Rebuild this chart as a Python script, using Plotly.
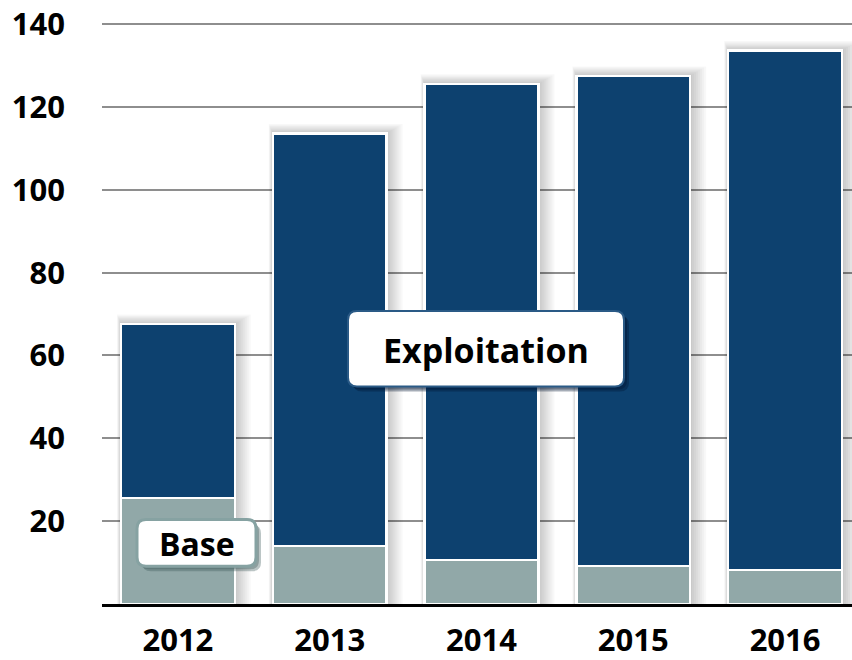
import plotly.graph_objects as go

years = ["2012", "2013", "2014", "2015", "2016"]
base = [25.6, 14.0, 10.6, 9.2, 8.2]
total = [67.6, 113.6, 125.6, 127.5, 133.6]
exploitation = [t - b for t, b in zip(total, base)]
y_ticks = [20, 40, 60, 80, 100, 120, 140]

DARK = "#0D416F"
GREY = "#91A8A8"
FONT = "'Open Sans', Lato, sans-serif"

# plot geometry (pixels)
L, R, T, B = 102, 0, 20, 52
W, H = 852, 660
PW, PH = W - L - R, H - T - B
X_RANGE = [-0.5, -0.5 + PW / 151.8]
Y_RANGE = [0, 141]
px_x = (X_RANGE[1] - X_RANGE[0]) / PW
px_y = (Y_RANGE[1] - Y_RANGE[0]) / PH
BW = 0.75

fig = go.Figure()
fig.add_trace(go.Bar(x=list(range(len(years))), y=base, name="Base",
                     marker=dict(color=GREY, line=dict(color="white", width=2.5))))
fig.add_trace(go.Bar(x=list(range(len(years))), y=exploitation, name="Exploitation",
                     marker=dict(color=DARK, line=dict(color="white", width=2.5))))

shapes = []
# soft bar shadows derived from the data
for i, t in enumerate(total):
    for k in range(1, 9):
        shapes.append(dict(type="rect", xref="x", yref="y", layer="between",
                           x0=i - BW / 2 - k * 0.5 * px_x, x1=i + BW / 2 + k * 2 * px_x,
                           y0=0, y1=t + k * 1.2 * px_y,
                           fillcolor="rgba(0,0,0,0.026)", line=dict(width=0)))


def rrect(x0, y0, x1, y1, r=9):
    rx, ry = r / PW, r / PH
    return (f"M {x0+rx},{y0} L {x1-rx},{y0} Q {x1},{y0} {x1},{y0+ry} "
            f"L {x1},{y1-ry} Q {x1},{y1} {x1-rx},{y1} L {x0+rx},{y1} "
            f"Q {x0},{y1} {x0},{y1-ry} L {x0},{y0+ry} Q {x0},{y0} {x0+rx},{y0} Z")


def px2paper(x, y):
    return (x - L) / PW, (H - B - y) / PH


def label_box(x0p, y0p, x1p, y1p, border, bw, shadow):
    a0 = px2paper(x0p, y1p)
    a1 = px2paper(x1p, y0p)
    for k in (5, 3):
        s0 = px2paper(x0p + k, y1p + k)
        s1 = px2paper(x1p + k, y0p + k)
        shapes.append(dict(type="path", xref="paper", yref="paper", layer="above",
                           path=rrect(s0[0], s0[1], s1[0], s1[1]),
                           fillcolor=shadow, line=dict(width=0)))
    shapes.append(dict(type="path", xref="paper", yref="paper", layer="above",
                       path=rrect(a0[0], a0[1], a1[0], a1[1]),
                       fillcolor="white", line=dict(color=border, width=bw)))


label_box(348, 313, 624, 389, "#2A5A86", 2, "rgba(0,20,50,0.35)")
label_box(137, 523, 256, 570, "#86A2A2", 3, "rgba(60,90,90,0.35)")

ex = px2paper(486, 352)
bs = px2paper(197, 547)
annotations = [
    dict(text="<b>Exploitation</b>", x=ex[0], y=ex[1], xref="paper", yref="paper",
         xanchor="center", yanchor="middle",
         showarrow=False, font=dict(family=FONT, size=34, color="black")),
    dict(text="<b>Base</b>", x=bs[0], y=bs[1], xref="paper", yref="paper",
         xanchor="center", yanchor="middle",
         showarrow=False, font=dict(family=FONT, size=32, color="black")),
]

fig.update_layout(
    barmode="stack", bargap=0.25,
    width=W, height=H,
    margin=dict(l=L, r=R, t=T, b=B, pad=0),
    paper_bgcolor="white", plot_bgcolor="white",
    showlegend=False,
    shapes=shapes, annotations=annotations,
    font=dict(family=FONT, color="black"),
    xaxis=dict(range=X_RANGE, tickmode="array", tickvals=list(range(len(years))),
               ticktext=[f"<b>{y}</b>" for y in years],
               tickfont=dict(size=31, family=FONT, color="black"),
               showgrid=False, zeroline=False, showline=True,
               linecolor="black", linewidth=3, ticks="", ticklabelstandoff=7),
    yaxis=dict(range=Y_RANGE, tickmode="array", tickvals=y_ticks,
               ticktext=[f"<b>{v}</b>" for v in y_ticks],
               tickfont=dict(size=31, family=FONT, color="black"),
               showgrid=True, gridcolor="#8E8E8E", gridwidth=1.6,
               zeroline=False, showline=False, ticks="", ticklabelstandoff=36),
)

fig.write_html("out.html", config={"displayModeBar": False},
               post_script="document.body.style.margin='0';document.body.style.overflow='hidden';")
